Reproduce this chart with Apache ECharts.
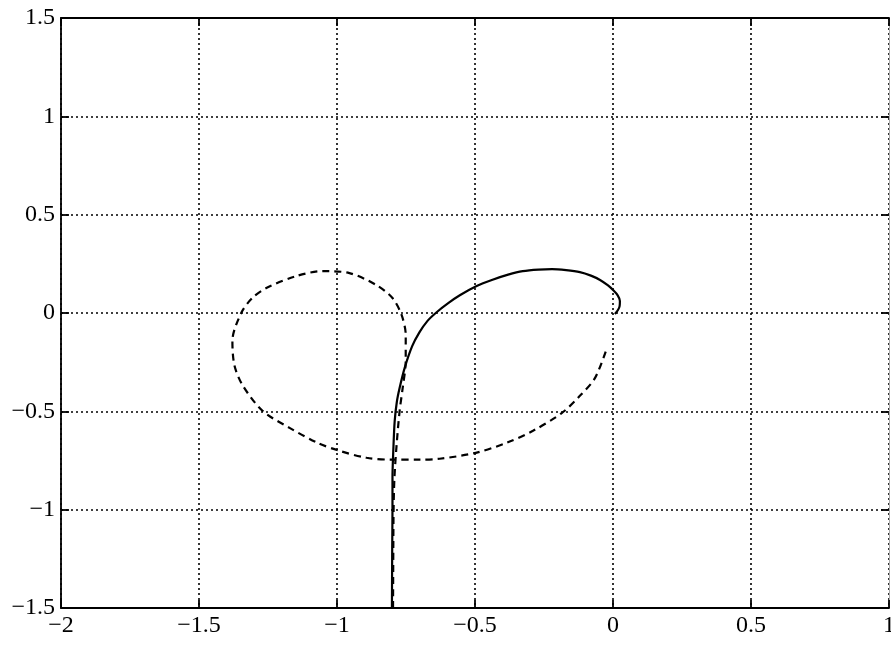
<!DOCTYPE html>
<html>
<head>
<meta charset="utf-8">
<script src="https://cdn.jsdelivr.net/npm/echarts@6/dist/echarts.min.js"></script>
<style>
  html, body { margin: 0; padding: 0; background: #fff; overflow: hidden; }
  #chart { position: absolute; left: 0; top: 0; width: 891px; height: 646px; }
</style>
</head>
<body>
<div id="chart"></div>
<script>
// Axis ranges and tick spacing
const xRange = [-2, 1];
const yRange = [-1.5, 1.5];
const tickStep = 0.5;

// Solid trajectory (x, y)
const solidX = [-0.801, -0.800, -0.799, -0.799, -0.796, -0.791, -0.783, -0.773, -0.755, -0.728,
  -0.702, -0.672, -0.638, -0.597, -0.555, -0.494, -0.439, -0.380, -0.327, -0.270,
  -0.221, -0.170, -0.120, -0.080, -0.047, -0.018, 0.000, 0.017, 0.025, 0.024, 0.018, 0.007];
const solidY = [-1.500, -1.200, -1.000, -0.840, -0.700, -0.550, -0.450, -0.380, -0.280, -0.170,
  -0.100, -0.040, 0.005, 0.050, 0.090, 0.137, 0.168, 0.195, 0.213, 0.221,
  0.223, 0.218, 0.208, 0.190, 0.168, 0.140, 0.117, 0.090, 0.061, 0.035, 0.015, -0.005];

// Dashed trajectory (x, y)
const dashX = [-0.797, -0.796, -0.795, -0.792, -0.784, -0.773, -0.762, -0.751, -0.751, -0.766,
  -0.799, -0.857, -0.955, -1.053, -1.147, -1.256, -1.307, -1.347, -1.379, -1.372,
  -1.343, -1.270, -1.172, -1.071, -0.991, -0.893, -0.799, -0.701, -0.628, -0.497,
  -0.385, -0.290, -0.185, -0.120, -0.065, -0.022];
const dashY = [-1.500, -1.200, -1.000, -0.840, -0.670, -0.497, -0.381, -0.244, -0.112, -0.010,
  0.076, 0.142, 0.203, 0.213, 0.188, 0.127, 0.076, 0.000, -0.142, -0.264,
  -0.365, -0.497, -0.584, -0.660, -0.701, -0.736, -0.746, -0.746, -0.741, -0.711,
  -0.660, -0.599, -0.508, -0.421, -0.330, -0.178];

const pairs = (xs, ys) => xs.map((x, i) => [x, ys[i]]);

const font = "'Liberation Serif', 'Times New Roman', serif";
const labelFmt = v => (v < 0 ? '\u2212' + String(-v) : String(v));

const gridLine = { show: true, lineStyle: { color: '#000', width: 1.6, type: [2, 3] } };
const axisLine = { show: true, onZero: false, lineStyle: { color: '#000', width: 1.8 } };
const faintLine = { show: true, onZero: false, lineStyle: { color: '#aaa', width: 1 } };
const tick = { show: true, inside: true, length: 8, lineStyle: { color: '#000', width: 1.8 } };
const label = { show: true, color: '#000', fontFamily: font, fontSize: 24, margin: 6, formatter: labelFmt };

function xAxisDef(pos, labels) {
  return {
    type: 'value', position: pos, min: xRange[0], max: xRange[1], interval: tickStep,
    axisLine, axisTick: tick, splitLine: labels ? gridLine : { show: false },
    axisLabel: labels ? label : { show: false }
  };
}
function yAxisDef(pos, labels) {
  return {
    type: 'value', position: pos, min: yRange[0], max: yRange[1], interval: tickStep,
    axisLine: labels ? axisLine : faintLine, axisTick: tick,
    splitLine: labels ? gridLine : { show: false },
    axisLabel: labels ? label : { show: false }
  };
}

const chart = echarts.init(document.getElementById('chart'), null, { renderer: 'canvas', width: 891, height: 646 });
chart.setOption({
  animation: false,
  backgroundColor: '#fff',
  grid: { left: 61, right: 2, top: 18, bottom: 38, containLabel: false, outerBoundsMode: 'none' },
  xAxis: [xAxisDef('bottom', true), xAxisDef('top', false)],
  yAxis: [yAxisDef('left', true), yAxisDef('right', false)],
  series: [
    {
      type: 'line', data: pairs(solidX, solidY), showSymbol: false, smooth: 0.3,
      lineStyle: { color: '#000', width: 2.2, type: 'solid' }, z: 3
    },
    {
      type: 'line', data: pairs(dashX, dashY), showSymbol: false, smooth: 0.3,
      lineStyle: { color: '#000', width: 2.2, type: [7, 5] }, z: 3
    }
  ]
});
</script>
</body>
</html>
